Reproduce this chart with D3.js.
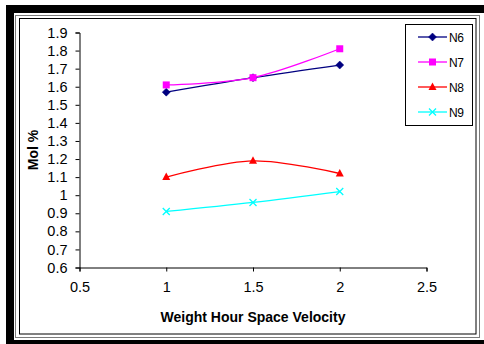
<!DOCTYPE html>
<html>
<head>
<meta charset="utf-8">
<script src="https://cdn.jsdelivr.net/npm/d3@7"></script>
<style>
  html, body { margin: 0; padding: 0; background: #fff; }
  svg { display: block; font-family: "Liberation Sans", Arial, sans-serif; }
</style>
</head>
<body>
<svg id="chart" width="484" height="344"></svg>
<script>
// Mol % against weight hour space velocity for four components
const velocities = [1, 1.5, 2];
const seriesNames = ["N6", "N7", "N8", "N9"];
const n6 = [1.57, 1.65, 1.72];
const n7 = [1.61, 1.65, 1.81];
const n8 = [1.10, 1.19, 1.12];
const n9 = [0.91, 0.96, 1.02];
const xTicks = [0.5, 1, 1.5, 2, 2.5];
const yTicks = [0.6, 0.7, 0.8, 0.9, 1, 1.1, 1.2, 1.3, 1.4, 1.5, 1.6, 1.7, 1.8, 1.9];

const seriesValues = [n6, n7, n8, n9];
const seriesColors = ["#000080", "#FF00FF", "#FF0000", "#00FFFF"];
const seriesMarkers = ["diamond", "square", "triangle", "cross"];

const svg = d3.select("#chart");

// Chart frame: heavy shadow band on top, left and bottom, then thin borders
svg.append("rect").attr("x", 6).attr("y", 5).attr("width", 478).attr("height", 8).attr("fill", "#000");
svg.append("rect").attr("x", 6).attr("y", 5).attr("width", 8).attr("height", 339).attr("fill", "#000");
svg.append("rect").attr("x", 6).attr("y", 340).attr("width", 478).attr("height", 4).attr("fill", "#000");
svg.append("rect").attr("x", 15.5).attr("y", 15.5).attr("width", 464).attr("height", 322)
  .attr("fill", "none").attr("stroke", "#7a7a7a").attr("stroke-width", 1);
svg.append("rect").attr("x", 19.5).attr("y", 18.5).attr("width", 456.5).attr("height", 315.5)
  .attr("fill", "#fff").attr("stroke", "#000").attr("stroke-width", 1);

const x = d3.scaleLinear().domain([0.5, 2.5]).range([79.5, 426.5]);
const y = d3.scaleLinear().domain([0.6, 1.9]).range([267.5, 32.5]);

// Axes
const xAxis = svg.append("g").attr("transform", `translate(0,${y(0.6)})`)
  .call(d3.axisBottom(x).tickValues(xTicks).tickSize(4).tickPadding(10).tickFormat(d3.format("")));
const yAxis = svg.append("g").attr("transform", `translate(${x(0.5)},0)`)
  .call(d3.axisLeft(y).tickValues(yTicks).tickSize(4).tickPadding(8).tickFormat(d3.format("")));

[xAxis, yAxis].forEach(g => {
  g.select(".domain").attr("stroke", "#000").attr("stroke-width", 1);
  g.selectAll(".tick line").attr("stroke", "#000");
  g.selectAll(".tick text").attr("fill", "#000").attr("font-size", 14.5)
    .attr("font-family", "'Liberation Sans', Arial, sans-serif");
});

// Axis titles
svg.append("text")
  .attr("x", (x(0.5) + x(2.5)) / 2).attr("y", 322)
  .attr("text-anchor", "middle").attr("font-size", 14).attr("font-weight", "bold")
  .text("Weight Hour Space Velocity");
svg.append("text")
  .attr("transform", `translate(38,${(y(0.6) + y(1.9)) / 2}) rotate(-90)`)
  .attr("text-anchor", "middle").attr("font-size", 14).attr("font-weight", "bold")
  .text("Mol %");

// Marker shapes
function drawMarker(g, kind, color, cx, cy) {
  if (kind === "diamond") {
    g.append("path").attr("d", `M${cx},${cy - 4}L${cx + 4},${cy}L${cx},${cy + 4}L${cx - 4},${cy}Z`)
      .attr("fill", color).attr("stroke", color).attr("stroke-width", 0.5);
  } else if (kind === "square") {
    g.append("rect").attr("x", cx - 3.5).attr("y", cy - 3.5).attr("width", 7).attr("height", 7)
      .attr("fill", color);
  } else if (kind === "triangle") {
    g.append("path").attr("d", `M${cx},${cy - 4.5}L${cx + 4},${cy + 3}L${cx - 4},${cy + 3}Z`)
      .attr("fill", color);
  } else {
    g.append("path").attr("d", `M${cx - 3.5},${cy - 3.5}L${cx + 3.5},${cy + 3.5}M${cx + 3.5},${cy - 3.5}L${cx - 3.5},${cy + 3.5}`)
      .attr("stroke", color).attr("stroke-width", 1.3).attr("fill", "none");
  }
}

// Smoothed series lines
const line = d3.line()
  .x(d => x(d[0]))
  .y(d => y(d[1]))
  .curve(d3.curveCatmullRom.alpha(0));

seriesValues.forEach((vals, i) => {
  const pts = velocities.map((v, j) => [v, vals[j]]);
  const g = svg.append("g");
  g.append("path").attr("d", line(pts)).attr("fill", "none")
    .attr("stroke", seriesColors[i]).attr("stroke-width", 1.3);
  pts.forEach(p => drawMarker(g, seriesMarkers[i], seriesColors[i], x(p[0]), y(p[1])));
});

// Legend
const legend = svg.append("g");
legend.append("rect").attr("x", 405.5).attr("y", 24.5).attr("width", 67).attr("height", 101)
  .attr("fill", "#fff").attr("stroke", "#000").attr("stroke-width", 1);
seriesNames.forEach((name, i) => {
  const ly = 37 + i * 25;
  legend.append("line").attr("x1", 418).attr("x2", 447).attr("y1", ly).attr("y2", ly)
    .attr("stroke", seriesColors[i]).attr("stroke-width", 1.3);
  drawMarker(legend, seriesMarkers[i], seriesColors[i], 432.5, ly);
  legend.append("text").attr("x", 449).attr("y", ly + 4.5)
    .attr("font-size", 12).attr("letter-spacing", -0.5).attr("fill", "#000").text(name);
});
</script>
</body>
</html>
